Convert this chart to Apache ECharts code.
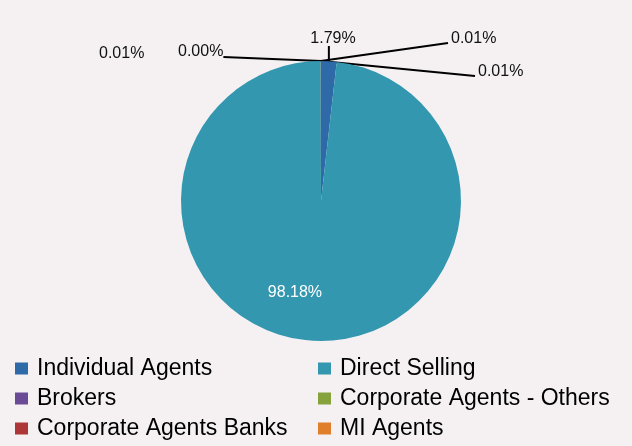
<!DOCTYPE html>
<html>
<head>
<meta charset="utf-8">
<script src="https://cdn.jsdelivr.net/npm/echarts@6/dist/echarts.min.js"></script>
<style>
  html, body { margin: 0; padding: 0; background: #f5f1f3; }
  #chart { width: 632px; height: 446px; }
</style>
</head>
<body>
<div id="chart"></div>
<script>
var channels = ['Individual Agents', 'Direct Selling', 'Brokers', 'Corporate Agents - Others', 'Corporate Agents Banks', 'MI Agents'];
var shares = [1.79, 98.18, 0.01, 0.01, 0.01, 0.00];
var colors = ['#2e6aa8', '#3397b0', '#6b4b95', '#86a23d', '#ad3636', '#e07f2b'];

// where the outside labels sit (label anchor, line end)
var labelSpots = [
    { x: 333, y: 39, align: 'center', end: 'bottom' },
    null,
    { x: 451, y: 39, align: 'left', end: 'left' },
    { x: 478, y: 72, align: 'left', end: 'left' },
    { x: 99, y: 54, align: 'left', end: null },
    { x: 178, y: 52, align: 'left', end: 'right' }
];

var chart = echarts.init(document.getElementById('chart'));

var pieData = channels.map(function (name, i) {
    var item = { name: name, value: shares[i], itemStyle: { color: colors[i] } };
    if (name === 'Direct Selling') {
        item.label = { position: 'inside', color: '#fff', offset: [-22, 19] };
        item.labelLine = { show: false };
    }
    if (labelSpots[i] && labelSpots[i].end === null) {
        item.labelLine = { show: false };
    }
    return item;
});

var legendText = {
    fontFamily: 'Liberation Sans, Arial, sans-serif',
    fontSize: 23,
    lineHeight: 23,
    color: '#000',
    padding: [0, 0, 0, 4]
};

var option = {
    backgroundColor: '#f5f1f3',
    animation: false,
    legend: [{
        data: ['Individual Agents', 'Brokers', 'Corporate Agents Banks'],
        orient: 'vertical',
        left: 10,
        top: 352,
        height: 94,
        itemWidth: 13,
        itemHeight: 12,
        itemGap: 7,
        icon: 'rect',
        textStyle: legendText
    }, {
        data: ['Direct Selling', 'Corporate Agents - Others', 'MI Agents'],
        orient: 'vertical',
        left: 313,
        top: 352,
        height: 94,
        itemWidth: 13,
        itemHeight: 12,
        itemGap: 7,
        icon: 'rect',
        textStyle: legendText
    }],
    series: [{
        type: 'pie',
        center: [321, 201],
        radius: 140,
        startAngle: 90,
        clockwise: true,
        minAngle: 0,
        avoidLabelOverlap: false,
        stillShowZeroSum: true,
        data: pieData,
        label: {
            formatter: function (p) { return p.value.toFixed(2) + '%'; },
            fontFamily: 'Liberation Sans, Arial, sans-serif',
            fontSize: 16,
            color: '#111'
        },
        labelLine: {
            length: 12,
            length2: 30,
            lineStyle: { color: '#000', width: 2 }
        },
        labelLayout: function (params) {
            var s = labelSpots[params.dataIndex];
            if (!s) {
                return {};
            }
            var out = { x: s.x, y: s.y, align: s.align, verticalAlign: 'middle' };
            var pts = params.labelLinePoints;
            if (s.end && pts) {
                var start = pts[0];
                var w = params.labelRect.width;
                var h = params.labelRect.height;
                var end;
                if (s.end === 'bottom') {
                    end = [start[0], s.y + h / 2 - 1];
                } else if (s.end === 'left') {
                    end = [s.x - 3, s.y + 4];
                } else {
                    end = [s.x + w, s.y + 5];
                }
                out.labelLinePoints = [start, end, end];
            }
            return out;
        },
        itemStyle: { borderWidth: 0 },
        emphasis: { disabled: true }
    }]
};

chart.setOption(option);

window.addEventListener('resize', function () {
    chart.resize();
});
</script>
</body>
</html>
